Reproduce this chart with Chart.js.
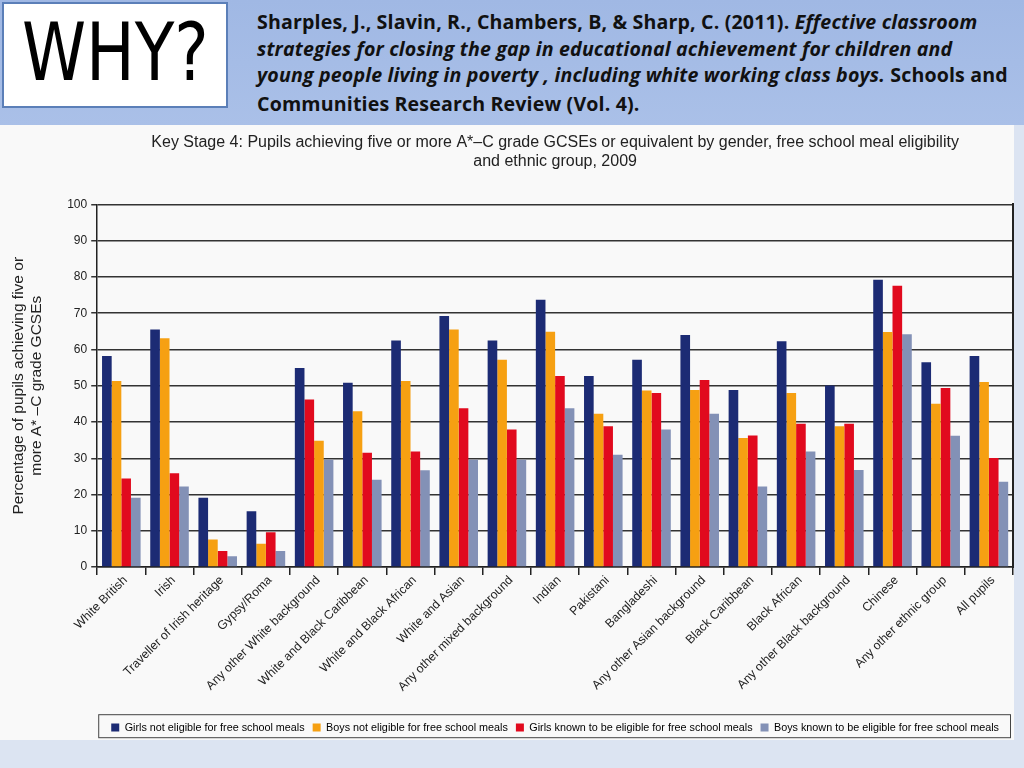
<!DOCTYPE html>
<html>
<head>
<meta charset="utf-8">
<script src="https://cdn.jsdelivr.net/npm/chart.js@4.4.1/dist/chart.umd.min.js"></script>
<style>
  html, body { margin: 0; padding: 0; }
  body { width: 1024px; height: 768px; position: relative; overflow: hidden; background: #dce4f2; font-family: "Open Sans", Lato, sans-serif; }
  #header { position: absolute; left: 0; top: 0; width: 1024px; height: 125px; background: linear-gradient(#a0b8e4, #aac0e8); }
  #why { position: absolute; left: 2px; top: 2px; width: 226px; height: 106px; background: #fff; border: 2px solid #5b7fb8; box-sizing: border-box; overflow: hidden; }
  #why span { position: absolute; left: 18px; top: -6px; font-family: "Liberation Sans Narrow", "DejaVu Sans Condensed", sans-serif; font-size: 80px; line-height: 110px;
              color: #000; transform: scaleX(0.9); transform-origin: left center; white-space: nowrap; }
  #cite { position: absolute; left: 257px; top: 9px; width: 767px; font-weight: bold; font-size: 19.6px; line-height: 26.5px; letter-spacing: 0.15px; color: #111; white-space: nowrap; }
  #cite .last { display: inline-block; margin-top: 2px; }
  #wrap { position: absolute; left: 0; top: 125px; width: 1014px; height: 615px; background: #f9f9f9; }
</style>
</head>
<body>
<div id="header">
  <div id="why"><span>WHY?</span></div>
  <div id="cite">Sharples, J., Slavin, R., Chambers, B, &amp; Sharp, C. (2011). <i>Effective classroom</i><br><i>strategies for closing the gap in educational achievement for children and</i><br><i>young people living in poverty , including white working class boys.</i> Schools and<br><span class="last">Communities Research Review (Vol. 4).</span></div>
</div>
<div id="wrap"><canvas id="grafico"></canvas></div>
<script>
// categorias e valores
const categorias = ['White British', 'Irish', 'Traveller of Irish heritage', 'Gypsy/Roma', 'Any other White background',
  'White and Black Caribbean', 'White and Black African', 'White and Asian', 'Any other mixed background', 'Indian',
  'Pakistani', 'Bangladeshi', 'Any other Asian background', 'Black Caribbean', 'Black African',
  'Any other Black background', 'Chinese', 'Any other ethnic group', 'All pupils'];
const meninasNaoElegiveis = [58.2, 65.5, 19.1, 15.4, 54.9, 50.8, 62.5, 69.2, 62.5, 73.7, 52.7, 57.2, 64.0, 48.8, 62.3, 50.1, 79.2, 56.5, 58.2];
const meninosNaoElegiveis = [51.3, 63.1, 7.6, 6.4, 46.2, 43.0, 51.3, 65.5, 57.2, 64.9, 42.3, 48.7, 48.8, 35.6, 48.0, 38.8, 64.8, 45.0, 51.0];
const meninasElegiveis = [24.4, 25.9, 4.4, 9.6, 34.8, 31.5, 31.9, 43.8, 37.9, 52.7, 38.8, 48.0, 51.6, 36.3, 39.5, 39.5, 77.6, 49.4, 30.1];
const meninosElegiveis = [19.1, 22.2, 3.0, 4.4, 29.6, 24.1, 26.7, 29.6, 29.6, 43.8, 31.0, 37.9, 42.3, 22.2, 31.9, 26.8, 64.2, 36.2, 23.5];
const legendas = ['Girls not eligible for free school meals', 'Boys not eligible for free school meals',
  'Girls known to be eligible for free school meals', 'Boys known to be eligible for free school meals'];
const yTicks = [0, 10, 20, 30, 40, 50, 60, 70, 80, 90, 100];

const azul = '#1c2b74', laranja = '#f6a012', vermelho = '#e10a1e', cinza = '#8391b6';
// no original, as cores do 2º e 3º grupo de "Any other White background" aparecem trocadas
const corTrocada = 4;
const coresMeninos = categorias.map((c, i) => i === corTrocada ? vermelho : laranja);
const coresMeninas = categorias.map((c, i) => i === corTrocada ? laranja : vermelho);

const caixaLegenda = {
  id: 'caixaLegenda',
  afterDraw(chart) {
    const l = chart.legend, a = chart.chartArea, ctx = chart.ctx;
    ctx.save();
    ctx.strokeStyle = '#444';
    ctx.lineWidth = 1;
    ctx.strokeRect(a.left + 1.5, l.top + 0.5, a.right - a.left - 4, 23);
    ctx.restore();
  }
};

Chart.defaults.font.family = '"Liberation Sans", Arial, sans-serif';
Chart.defaults.color = '#222';

new Chart(document.getElementById('grafico'), {
  type: 'bar',
  data: {
    labels: categorias,
    datasets: [
      { label: legendas[0], data: meninasNaoElegiveis, backgroundColor: azul },
      { label: legendas[1], data: meninosNaoElegiveis, backgroundColor: coresMeninos },
      { label: legendas[2], data: meninasElegiveis, backgroundColor: coresMeninas },
      { label: legendas[3], data: meninosElegiveis, backgroundColor: cinza }
    ]
  },
  options: {
    responsive: true,
    maintainAspectRatio: false,
    animation: false,
    layout: { padding: { left: 9, right: 1, top: 8, bottom: -3 } },
    datasets: { bar: { categoryPercentage: 0.8, barPercentage: 1.0 } },
    plugins: {
      title: {
        display: true,
        fullSize: false,
        text: ['Key Stage 4: Pupils achieving five or more A*\u2013C grade GCSEs or equivalent by gender, free school meal eligibility',
               'and ethnic group, 2009'],
        font: { size: 16, weight: 'normal' },
        color: '#222',
        padding: { top: 0, bottom: 33 },
        lineHeight: 1.15
      },
      legend: {
        position: 'bottom',
        fullSize: false,
        labels: {
          boxWidth: 8, boxHeight: 8, padding: 8,
          font: { size: 10.8 },
          color: '#222',
          generateLabels(chart) {
            const cores = [azul, laranja, vermelho, cinza];
            return chart.data.datasets.map((d, i) => ({
              text: d.label, fillStyle: cores[i], strokeStyle: cores[i], lineWidth: 0, datasetIndex: i
            }));
          }
        }
      },
      tooltip: { enabled: false }
    },
    scales: {
      x: {
        grid: { offset: true, drawOnChartArea: false, color: '#222', tickLength: 8, lineWidth: 1.5 },
        border: { color: '#222', width: 1.5 },
        ticks: { autoSkip: false, maxRotation: 45, minRotation: 45, font: { size: 12.3 }, color: '#222', padding: -2, labelOffset: 4 },
        afterFit(scale) { scale.height += 22; }
      },
      y: {
        min: 0, max: 100,
        afterBuildTicks(axis) { axis.ticks = yTicks.map(v => ({ value: v })); },
        grid: { color: '#333', lineWidth: 1.5, tickLength: 6 },
        border: { color: '#222', width: 1.5 },
        ticks: { font: { size: 12 }, color: '#222', padding: 4 },
        title: {
          display: true,
          text: ['Percentage of pupils achieving five or', 'more A* \u2013C grade GCSEs'],
          font: { size: 15.5 },
          lineHeight: 1.15,
          color: '#222',
          padding: { top: 0, bottom: 17 }
        }
      },
      y2: {
        position: 'right', min: 0, max: 100,
        grid: { drawOnChartArea: false, drawTicks: false },
        border: { color: '#222', width: 2 },
        ticks: { display: false }
      }
    }
  },
  plugins: [caixaLegenda]
});
</script>
</body>
</html>
